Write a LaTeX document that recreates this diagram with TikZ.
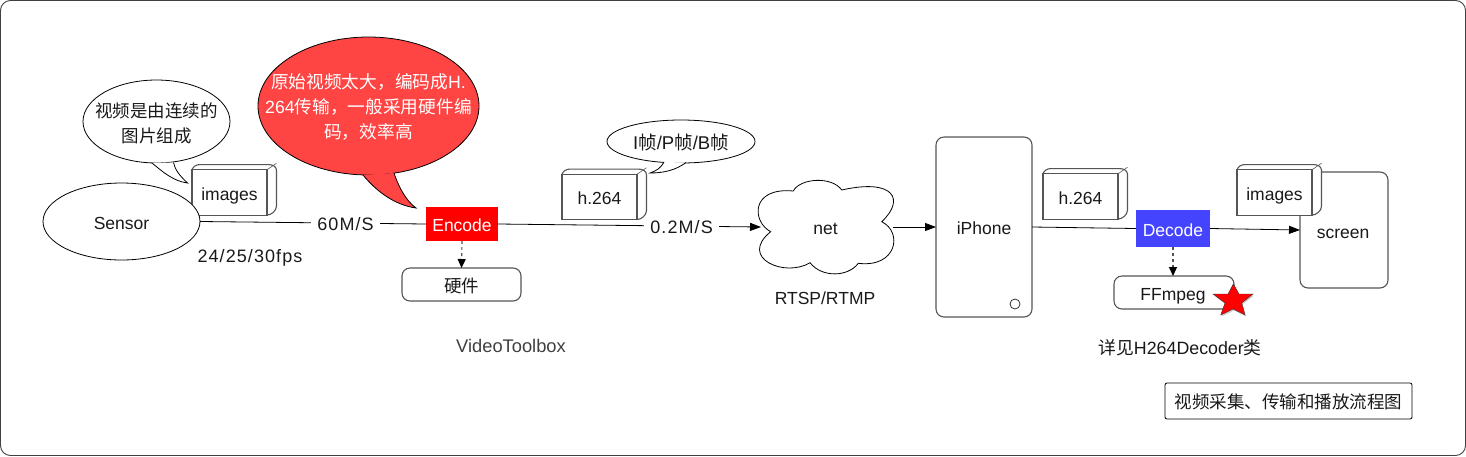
\documentclass[tikz,border=0pt]{standalone}
\usepackage{fontspec}
\setmainfont{Liberation Sans}
\newfontfamily\cjf{Noto Sans CJK SC}
\newfontfamily\spacedf[LetterSpace=6]{Liberation Sans}
\newcommand\cj[1]{{\cjf #1}}
\usetikzlibrary{arrows.meta,shapes.geometric,shadows}
\definecolor{edgegrey}{HTML}{555555}
\definecolor{bubblered}{HTML}{FF4444}
\definecolor{decodeblue}{HTML}{4444FF}
\tikzset{
  every node/.style={font=\fontsize{17.5}{25}\selectfont,inner sep=0pt,outer sep=0pt,text=black!90},
  oneline/.style={text height=15pt,text depth=0pt},
  frameline/.style={draw=edgegrey,line width=1.1pt},
  roundbox/.style={frameline,fill=white,rounded corners=8pt,rectangle,align=center},
  oval/.style={ellipse,draw=black,line width=0.8pt,fill=white},
  ovaltext/.style={align=center},
  tailline/.style={draw=black,line width=0.8pt},
  flow/.style={draw=black,line width=0.8pt},
  flowarrow/.style={flow,-{Triangle[length=11pt,width=8pt]}},
  dasharrow/.style={draw=edgegrey,line width=1.1pt,dash pattern=on 3pt off 3pt,-{Triangle[length=9pt,width=8pt,color=black,fill=black]}},
  spaced/.style={oneline,font=\fontsize{18}{25}\spacedf},
  rate/.style={spaced,fill=white,inner xsep=6pt,inner ysep=2pt},
  codec/.style={rectangle,text=white,oneline},
  cubefront/.style={frameline,fill=white,rectangle,minimum width=75pt,minimum height=45.5pt,oneline},
  cubeback/.style={frameline,fill=white},
  note/.style={oneline}
}
\newcommand\cubebox[4]{%
  \coordinate (#1nw) at (#2-37.5,#3-22.75);
  \path[cubeback] (#1nw) .. controls +(1,-3) and +(-4,0) .. ++(8,-5.2) -- ++(68,0)
     .. controls +(5,0) and +(0,-4) .. ++(8.5,6) -- ++(0,35.5)
     .. controls +(0,5) and +(4,0) .. ++(-9.5,9) -- cycle;
  \node[cubefront] (#1) at (#2,#3) {#4};
  \draw[frameline,line width=0.6pt] (#1.north east) -- ++(9.5,-6.5);
}
\begin{document}
\begin{tikzpicture}[x=1pt,y=-1pt]
\useasboundingbox (0,0) rectangle (1466,456);
\node[frameline,draw=black!75,line width=0.9pt,rectangle,rounded corners=10pt,minimum width=1465pt,minimum height=455pt] (frame) at (733,228) {};

% left part
\cubebox{imagesA}{229.5}{192.5}{images}
\node[oval,minimum width=157pt,minimum height=77pt,oneline] (sensor) at (121.5,221.5) {Sensor};

\node[oval,minimum width=147pt,minimum height=83pt] (bubbleA) at (156.5,121.5) {};
\node[ovaltext] (bubbleAtext) at (156.5,123) {\cj{视频是由连续的}\\\cj{图片组成}};
\coordinate (tailAa) at (152,163);
\coordinate (tailAtip) at (187.5,183);
\coordinate (tailAb) at (173.5,162.5);
\fill[white] (tailAa) .. controls (163,172) and (173,181) .. (tailAtip) .. controls (180,176) and (175,170) .. (tailAb) -- cycle;
\draw[tailline] (tailAa) .. controls (163,172) and (173,181) .. (tailAtip) .. controls (180,176) and (175,170) .. (tailAb);

\node[oval,fill=bubblered,minimum width=221pt,minimum height=138pt] (bubbleB) at (368.5,106) {};
\node[ovaltext,text=white,font=\fontsize{17.7}{25}\selectfont] (bubbleBtext) at (368.5,107) {\cj{原始视频太大，编码成}H.\\264\cj{传输，一般采用硬件编}\\\cj{码，效率高}};
\coordinate (tailBa) at (363,175);
\coordinate (tailBtip) at (416,208);
\coordinate (tailBb) at (394,173);
\fill[bubblered] (tailBa) .. controls (377,192) and (395,205) .. (tailBtip) .. controls (405,200) and (398,185) .. (tailBb) -- cycle;
\draw[tailline] (tailBa) .. controls (377,192) and (395,205) .. (tailBtip) .. controls (405,200) and (398,185) .. (tailBb);

\node[codec,fill=red,minimum width=72pt,minimum height=34pt] (encode) at (462,224) {Encode};
\draw[flow] (sensor.east) -- node[rate,pos=0.644] {60M/S} (encode.west);
\node[spaced] (fps) at (250,255) {24/25/30fps};
\node[roundbox,oneline,minimum width=119pt,minimum height=33pt] (hard) at (461.5,284.5) {\cj{硬件}};
\draw[dasharrow] (encode.south) -- (hard.north);
\node[note,text=black!75,font=\fontsize{18.3}{25}\selectfont] (vtb) at (511,344.5) {VideoToolbox};

% middle part
\cubebox{h264A}{599.5}{197}{h.264}
\node[oval,minimum width=148pt,minimum height=43pt] (bubbleC) at (681,141.5) {};
\node[oneline,font=\fontsize{18.5}{25}\selectfont] (bubbleCtext) at (681,141.5) {I\cj{帧}/P\cj{帧}/B\cj{帧}};
\coordinate (tailCa) at (664,162);
\coordinate (tailCtip) at (650,173);
\coordinate (tailCb) at (686,162.5);
\fill[white] (tailCa) .. controls (661,168) and (656,171) .. (tailCtip) .. controls (664,173) and (676,170) .. (tailCb) -- cycle;
\draw[tailline] (tailCa) .. controls (661,168) and (656,171) .. (tailCtip) .. controls (664,173) and (676,170) .. (tailCb);

\draw[line width=0.8pt,draw=black] (770.7,231.7) .. controls (752,222) and (750,187) .. (793.3,191)
  .. controls (800,178) and (832,176) .. (841.7,190)
  .. controls (895,178) and (905,200) .. (881.7,221.7)
  .. controls (903,232) and (897,268) .. (858.3,263.3)
  .. controls (848,277) and (822,278) .. (810,262.7)
  .. controls (785,278) and (738,258) .. (770.7,231.7) -- cycle;
\node[minimum width=137pt,minimum height=91pt,oneline] (net) at (825.5,227) {net};
\draw[flowarrow] (encode.east) -- node[rate,pos=0.698] {0.2M/S} ([xshift=4pt]net.west);
\node[note] (proto) at (825,296.5) {RTSP/RTMP};

% right part
\node[roundbox,oneline,minimum width=96pt,minimum height=180pt] (iphone) at (984,227) {iPhone};
\draw[flowarrow] ([xshift=-1pt]net.east) -- (iphone.west);
\node[circle,draw=black!80,line width=0.8pt,minimum size=10pt] (button) at (1015,304) {};
\cubebox{h264B}{1080.5}{196.5}{h.264}

\node[roundbox,minimum width=88pt,minimum height=116pt] (screen) at (1344,230) {};
\node[oneline] (screenlabel) at (1343,231) {screen};
\cubebox{imagesB}{1274.5}{192.5}{images}

\node[codec,fill=decodeblue,minimum width=74pt,minimum height=37pt] (decode) at (1173,228.5) {Decode};
\draw[flow] (iphone.east) -- (decode.west);
\draw[flowarrow] (decode.east) -- (screen.west);
\node[roundbox,minimum width=120pt,minimum height=33pt] (ffmpeg) at (1174,292.5) {};
\node[oneline] (fflabel) at (1173,292.5) {FFmpeg};
\draw[dasharrow] (decode.south) -- (decode.south |- ffmpeg.north);
\path[draw=black!80,line width=0.4pt,fill=red,drop shadow={shadow xshift=1pt,shadow yshift=-1.5pt,opacity=0.4}]
  (1233.3,284) -- (1239,294) -- (1253,294) -- (1241.7,303) -- (1245,315) -- (1233,309) -- (1220.7,315) -- (1225,303) -- (1213,294) -- (1228,294) -- cycle;
\node[note,font=\fontsize{17.8}{25}\selectfont] (seeclass) at (1180,347) {\cj{详见}H264Decoder\cj{类}};

\node[rectangle,oneline,draw=black,line width=0.8pt,rounded corners=2pt,minimum width=247pt,minimum height=36pt] (legend) at (1288.5,401) {\cj{视频采集、传输和播放流程图}};
\end{tikzpicture}
\end{document}
